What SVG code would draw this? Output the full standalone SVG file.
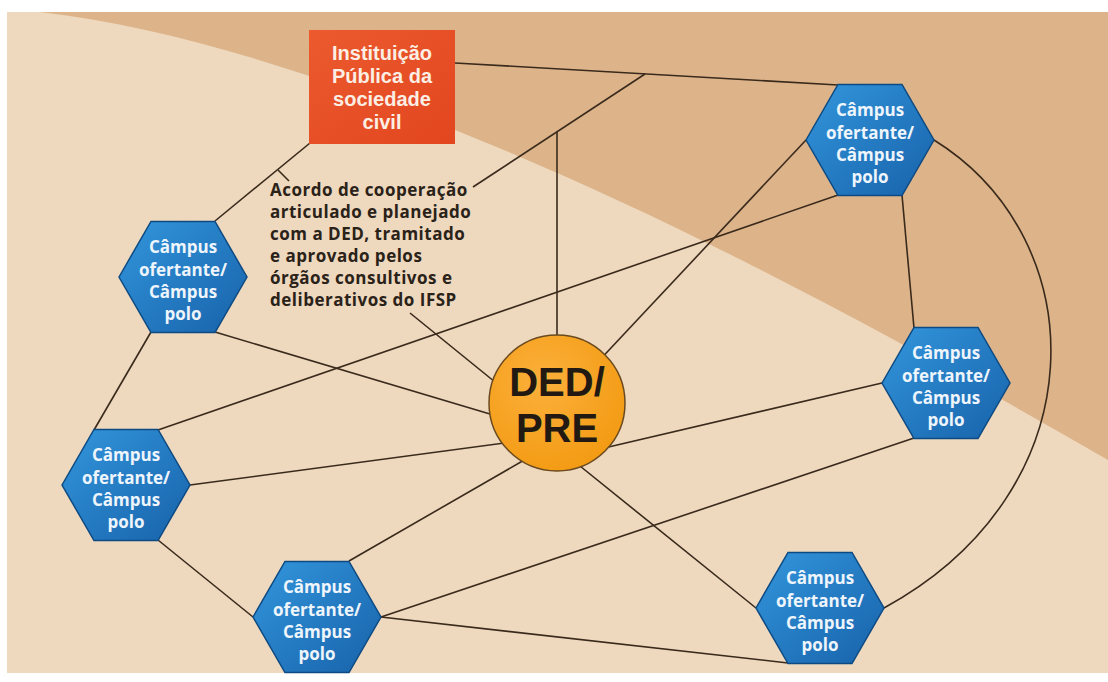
<svg xmlns="http://www.w3.org/2000/svg" width="1108" height="682" viewBox="0 0 1108 682">
  <defs>
    <linearGradient id="hexGrad" x1="0" y1="0" x2="1" y2="1">
      <stop offset="0" stop-color="#3396dc"/>
      <stop offset="1" stop-color="#1762aa"/>
    </linearGradient>
    <radialGradient id="dedGrad" cx="0.4" cy="0.35" r="0.7">
      <stop offset="0" stop-color="#fbb03b"/>
      <stop offset="1" stop-color="#f39a12"/>
    </radialGradient>
    <linearGradient id="boxGrad" x1="0" y1="0" x2="1" y2="1">
      <stop offset="0" stop-color="#ec5a2e"/>
      <stop offset="1" stop-color="#e2461f"/>
    </linearGradient>
    <polygon id="hex" points="-64,0 -32,-55.5 32,-55.5 64,0 32,55.5 -32,55.5"/>
  </defs>
  <style>
    .conn line, .conn path { stroke: #3a2a1c; stroke-width: 1.6; fill: none; }
    .hexshape { fill: url(#hexGrad); stroke: #0e4a82; stroke-width: 1.5; }
    .hext { font-family: "Open Sans", "DejaVu Sans", sans-serif; font-weight: 700; font-size: 17px; fill: #eef5fc; text-anchor: middle; }
    .boxt { font-family: "Liberation Sans", Arial, sans-serif; font-weight: 700; font-size: 20px; fill: #fbeee4; text-anchor: middle; }
    .lbl { font-family: "Open Sans", "DejaVu Sans", sans-serif; font-weight: 700; font-size: 17px; letter-spacing: 0.5px; fill: #2a2218; }
    .dedt { font-family: "Liberation Sans", Arial, sans-serif; font-weight: 700; font-size: 40px; fill: #221a12; text-anchor: middle; }
  </style>

  <!-- background -->
  <rect x="0" y="0" width="1108" height="682" fill="#ffffff"/>
  <rect x="7" y="12" width="1101" height="661" fill="#eed8be"/>
  <path d="M40,12 C180,28 330,80 455,130 C680,220 900,340 1108,460 L1108,12 Z" fill="#ddb48a"/>

  <!-- connectors -->
  <g id="connectors" class="conn">
    <line x1="455" y1="63" x2="838" y2="85"/>
    <line x1="645" y1="74" x2="473" y2="187"/>
    <line x1="557" y1="132" x2="557" y2="345"/>
    <line x1="310" y1="143" x2="215" y2="221"/>
    <line x1="278" y1="170" x2="289" y2="181"/>
    <line x1="410" y1="313" x2="495" y2="382"/>
    <line x1="215" y1="332" x2="500" y2="417"/>
    <line x1="151" y1="332" x2="94" y2="430"/>
    <line x1="838" y1="195" x2="158" y2="430"/>
    <line x1="806" y1="140" x2="595" y2="365"/>
    <line x1="902" y1="195" x2="914" y2="328"/>
    <path d="M934,140 C1095,240 1100,490 884,608"/>
    <line x1="882" y1="383" x2="600" y2="449"/>
    <line x1="914" y1="438" x2="381" y2="617"/>
    <line x1="190" y1="485" x2="512" y2="442"/>
    <line x1="158" y1="540" x2="253" y2="617"/>
    <line x1="349" y1="561" x2="526" y2="459"/>
    <line x1="381" y1="617" x2="788" y2="663"/>
    <line x1="575" y1="462" x2="756" y2="608"/>
  </g>

  <!-- Instituição box -->
  <g id="instituicao">
    <rect x="309" y="30" width="146" height="114" fill="url(#boxGrad)"/>
    <text class="boxt" x="382" y="60">Instituição</text>
    <text class="boxt" x="382" y="83">Pública da</text>
    <text class="boxt" x="382" y="106">sociedade</text>
    <text class="boxt" x="382" y="129">civil</text>
  </g>

  <!-- label -->
  <g id="acordo-label">
    <text class="lbl" x="270" y="196">Acordo de cooperação</text>
    <text class="lbl" x="270" y="218">articulado e planejado</text>
    <text class="lbl" x="270" y="240">com a DED, tramitado</text>
    <text class="lbl" x="270" y="262">e aprovado pelos</text>
    <text class="lbl" x="270" y="284">órgãos consultivos e</text>
    <text class="lbl" x="270" y="306">deliberativos do IFSP</text>
  </g>

  <!-- DED/PRE -->
  <g id="ded-pre">
    <circle cx="557" cy="403" r="68" fill="url(#dedGrad)" stroke="#6a4a1e" stroke-width="1.5"/>
    <text class="dedt" x="557" y="396">DED/</text>
    <text class="dedt" x="557" y="442">PRE</text>
  </g>

  <!-- hexagons -->
  <g id="campus-1" transform="translate(183,277)">
    <use href="#hex" class="hexshape"/>
    <text class="hext" y="-24">Câmpus</text>
    <text class="hext" y="-1">ofertante/</text>
    <text class="hext" y="21">Câmpus</text>
    <text class="hext" y="43">polo</text>
  </g>
  <g id="campus-2" transform="translate(870,140)">
    <use href="#hex" class="hexshape"/>
    <text class="hext" y="-24">Câmpus</text>
    <text class="hext" y="-1">ofertante/</text>
    <text class="hext" y="21">Câmpus</text>
    <text class="hext" y="43">polo</text>
  </g>
  <g id="campus-3" transform="translate(946,383)">
    <use href="#hex" class="hexshape"/>
    <text class="hext" y="-24">Câmpus</text>
    <text class="hext" y="-1">ofertante/</text>
    <text class="hext" y="21">Câmpus</text>
    <text class="hext" y="43">polo</text>
  </g>
  <g id="campus-4" transform="translate(126,485)">
    <use href="#hex" class="hexshape"/>
    <text class="hext" y="-24">Câmpus</text>
    <text class="hext" y="-1">ofertante/</text>
    <text class="hext" y="21">Câmpus</text>
    <text class="hext" y="43">polo</text>
  </g>
  <g id="campus-5" transform="translate(317,617)">
    <use href="#hex" class="hexshape"/>
    <text class="hext" y="-24">Câmpus</text>
    <text class="hext" y="-1">ofertante/</text>
    <text class="hext" y="21">Câmpus</text>
    <text class="hext" y="43">polo</text>
  </g>
  <g id="campus-6" transform="translate(820,608)">
    <use href="#hex" class="hexshape"/>
    <text class="hext" y="-24">Câmpus</text>
    <text class="hext" y="-1">ofertante/</text>
    <text class="hext" y="21">Câmpus</text>
    <text class="hext" y="43">polo</text>
  </g>
</svg>
